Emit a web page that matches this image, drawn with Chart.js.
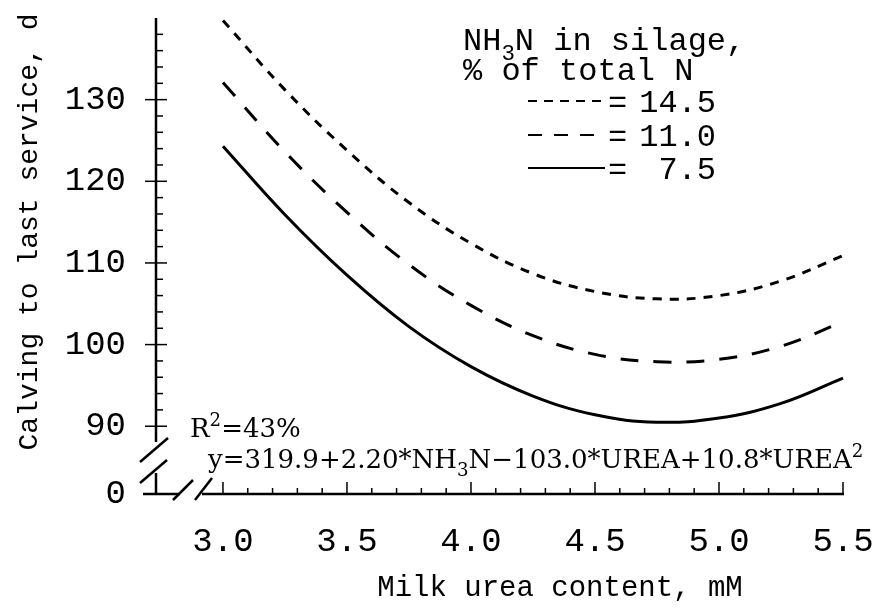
<!DOCTYPE html>
<html>
<head>
<meta charset="utf-8">
<script src="https://cdn.jsdelivr.net/npm/chart.js@4.4.1/dist/chart.umd.min.js"></script>
<style>
  html, body { margin: 0; padding: 0; background: #fff; }
</style>
</head>
<body>
<canvas id="ureaChart" width="877" height="608"></canvas>
<script>
// values (days from calving to last service)
const ureaLevels = [3.0, 3.25, 3.5, 3.75, 4.0, 4.25, 4.5, 4.75, 5.0, 5.25, 5.5];
const calvingNH3_145 = [139.7, 131.2, 123.8, 117.4, 112.4, 108.7, 106.5, 105.6, 106.0, 107.8, 110.9];
const calvingNH3_110 = [132.1, 123.6, 116.2, 109.8, 104.8, 101.1, 98.8, 97.9, 98.2, 99.8, 102.8];
const calvingNH3_75 = [124.3, 115.9, 108.5, 102.2, 97.3, 93.7, 91.4, 90.5, 91.0, 92.8, 95.9];
const seriesLabels = ['14.5', '11.0', '7.5'];
const xTickLabels = [3.0, 3.5, 4.0, 4.5, 5.0, 5.5];
const yTickLabels = [90, 100, 110, 120, 130];

const yBreak = 81.7; // bottom of the broken y axis, labelled "0"
const MONO = '"Liberation Mono", "Courier New", monospace';
const SERIF = '"DejaVu Serif", "Liberation Serif", serif';

function toPoints(ys) {
    return ureaLevels.map((x, i) => ({ x: x, y: ys[i] }));
}

function line(ctx, x1, y1, x2, y2) {
    ctx.beginPath();
    ctx.moveTo(x1, y1);
    ctx.lineTo(x2, y2);
    ctx.stroke();
}

// draws text pieces one after another, with sub/superscripts
function drawRun(ctx, x, y, parts, size, family) {
    parts.forEach(p => {
        let s = size, dy = 0;
        if (p.sub) { s = size * 0.7; dy = size * 0.3; }
        if (p.sup) { s = size * 0.7; dy = -size * 0.42; }
        ctx.font = s + 'px ' + family;
        ctx.fillText(p.t, x, y + dy);
        x += ctx.measureText(p.t).width;
    });
}

const figurePlugin = {
    id: 'figurePlugin',
    afterDraw(chart) {
        const ctx = chart.ctx;
        const xs = chart.scales.x, ys = chart.scales.y;
        const left = xs.getPixelForValue(xs.min);
        const right = xs.getPixelForValue(5.5);
        const bottom = ys.getPixelForValue(ys.min);
        const top = ys.getPixelForValue(ys.max);

        ctx.save();
        ctx.strokeStyle = '#000';
        ctx.fillStyle = '#000';
        ctx.lineWidth = 2.5;

        // y axis with break
        line(ctx, left, top, left, bottom - 52);
        line(ctx, left, bottom - 21, left, bottom + 1);
        line(ctx, left - 16, bottom - 32, left + 12, bottom - 56);
        line(ctx, left - 16, bottom - 11, left + 11, bottom - 34);

        // x axis with break
        line(ctx, left - 13, bottom, left + 24, bottom);
        line(ctx, left + 46, bottom, right + 1, bottom);
        line(ctx, left + 17, bottom + 6, left + 37, bottom - 14);
        line(ctx, left + 39, bottom + 6, left + 56, bottom - 16);

        // x ticks: minor every 0.1, major every 0.5
        ctx.lineWidth = 1.5;
        for (let i = 30; i <= 55; i++) {
            const px = xs.getPixelForValue(i / 10);
            line(ctx, px, bottom, px, bottom - (i % 5 === 0 ? 12 : 6));
        }
        // y ticks: minor every 2 inside, major crossing
        for (let v = 90; v < 140; v += 2) {
            const py = ys.getPixelForValue(v);
            if (v % 10 === 0) line(ctx, left - 11, py, left + 11, py);
            else line(ctx, left, py, left + 7, py);
        }

        // axis titles
        ctx.font = '29px ' + MONO;
        ctx.textAlign = 'center';
        ctx.textBaseline = 'middle';
        ctx.fillText('Milk urea content, mM', 560, 588);
        ctx.save();
        ctx.translate(30, 232);
        ctx.rotate(-Math.PI / 2);
        ctx.font = '28px ' + MONO;
        ctx.fillText('Calving to last service, d', 0, 0);
        ctx.restore();

        // legend block
        ctx.textAlign = 'left';
        ctx.textBaseline = 'alphabetic';
        drawRun(ctx, 463, 50, [{ t: 'NH' }, { t: '3', sub: true }, { t: 'N in silage,' }], 32, MONO);
        drawRun(ctx, 463, 80, [{ t: '% of total N' }], 32, MONO);
        const dashes = [[9, 7], [14, 12], []];
        const rowY = [101, 135, 168];
        seriesLabels.forEach((lab, i) => {
            ctx.lineWidth = 2;
            ctx.setLineDash(dashes[i]);
            line(ctx, 528, rowY[i], 605, rowY[i]);
            ctx.setLineDash([]);
            ctx.font = '32px ' + MONO;
            ctx.textAlign = 'left';
            ctx.fillText('=', 608, rowY[i] + 11);
            ctx.textAlign = 'right';
            ctx.fillText(lab, 716, rowY[i] + 11);
        });

        // regression text
        ctx.textAlign = 'left';
        drawRun(ctx, 190, 437, [{ t: 'R' }, { t: '2', sup: true }, { t: '=43%' }], 26, SERIF);
        drawRun(ctx, 208, 468, [
            { t: 'y=319.9+2.20*NH' }, { t: '3', sub: true },
            { t: 'N\u2212103.0*UREA+10.8*UREA' }, { t: '2', sup: true }
        ], 26, SERIF);

        ctx.restore();
    }
};

const ctx = document.getElementById('ureaChart').getContext('2d');

new Chart(ctx, {
    type: 'line',
    data: {
        datasets: [
            { label: seriesLabels[0], data: toPoints(calvingNH3_145), borderDash: [9, 8] },
            { label: seriesLabels[1], data: toPoints(calvingNH3_110), borderDash: [18, 15] },
            { label: seriesLabels[2], data: toPoints(calvingNH3_75) }
        ]
    },
    options: {
        responsive: false,
        animation: false,
        layout: { padding: { top: 18, right: 34, left: 0, bottom: 0 } },
        elements: {
            point: { radius: 0 },
            line: { borderWidth: 3, borderColor: '#000', tension: 0.4 }
        },
        datasets: { line: { clip: 6 } },
        plugins: {
            legend: { display: false },
            tooltip: { enabled: false }
        },
        scales: {
            x: {
                type: 'linear',
                min: 2.73,
                max: 5.5,
                grid: { display: false, drawTicks: false },
                border: { display: false },
                afterBuildTicks: s => { s.ticks = xTickLabels.map(v => ({ value: v })); },
                afterFit: s => { s.height = 114; s.paddingLeft = 0; s.paddingRight = 0; },
                ticks: {
                    autoSkip: false,
                    maxRotation: 0,
                    padding: 28,
                    color: '#000',
                    font: { family: MONO, size: 34 },
                    callback: v => Number(v).toFixed(1)
                }
            },
            y: {
                min: yBreak,
                max: 140,
                grid: { display: false, drawTicks: false },
                border: { display: false },
                afterBuildTicks: s => { s.ticks = [yBreak].concat(yTickLabels).map(v => ({ value: v })); },
                afterFit: s => { s.width = 156; s.paddingTop = 0; s.paddingBottom = 0; },
                ticks: {
                    padding: 30,
                    color: '#000',
                    font: { family: MONO, size: 34 },
                    callback: v => (v === yBreak ? '0' : v)
                }
            }
        }
    },
    plugins: [figurePlugin]
});
</script>
</body>
</html>
